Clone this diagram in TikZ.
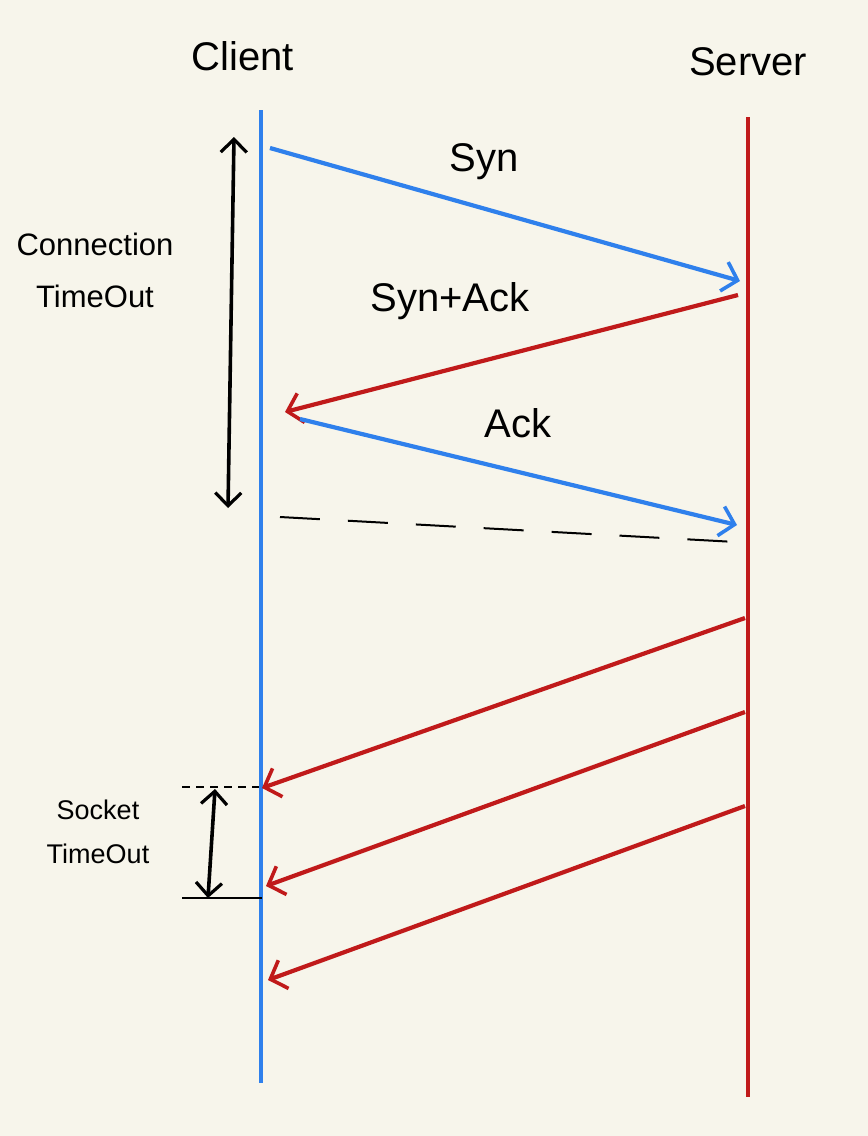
\documentclass[tikz,border=0pt]{standalone}
\usepackage{fontspec}
\setmainfont{Liberation Sans}
\usetikzlibrary{arrows.meta}
\definecolor{bg}{HTML}{F7F5EB}
\definecolor{cblue}{HTML}{2F80EC}
\definecolor{cred}{HTML}{C01A1A}
\tikzset{
  lifeline/.style={line width=3.4pt},
  msg/.style={line width=4.2pt, -{Straight Barb[length=14pt,width=30pt,line width=3.6pt]}},
  dim/.style={line width=3.6pt, {Straight Barb[length=13pt,width=26pt,line width=3.2pt]}-{Straight Barb[length=13pt,width=26pt,line width=3.2pt]}},
  lbl/.style={font=\fontsize{40}{40}\selectfont, inner sep=0pt},
  sidelbl/.style={font=\fontsize{31}{52}\selectfont, align=center, inner sep=0pt},
  guide/.style={line width=2pt, dash pattern=on 40pt off 28pt}
}
\begin{document}
\begin{tikzpicture}[x=1pt,y=-1pt]
\fill[bg] (0,0) rectangle (868,1136);
\useasboundingbox (0,0) rectangle (868,1136);

% headers
\node[lbl] (client) at (243,56) {Client};
\node[lbl] (server) at (748,62) {Server};

% lifelines
\coordinate (ctop) at (261,110);
\coordinate (cbot) at (261,1083);
\coordinate (stop) at (748,117);
\coordinate (sbot) at (748,1097);
\draw[lifeline, cblue] (ctop) -- (cbot);
\draw[lifeline, cred] (stop) -- (sbot);

% handshake
\coordinate (syn1) at (270,148);
\coordinate (syn2) at (740,281);
\coordinate (sa1) at (738,295);
\coordinate (sa2) at (285,412);
\coordinate (ack1) at (300,419);
\coordinate (ack2) at (737,525);
\draw[msg, cblue] (syn1) -- (syn2);
\draw[msg, cred] (sa1) -- (sa2);
\draw[msg, cblue] (ack1) -- (ack2);
\node[lbl] (synlbl) at (484,162) {Syn};
\node[lbl] (salbl) at (450,301) {Syn+Ack};
\node[lbl] (acklbl) at (518,423) {Ack};

% dashed established line
\coordinate (d1) at (280,517);
\coordinate (d2) at (736,542);
\draw[guide] (d1) -- (d2);

% connection timeout
\coordinate (ct1) at (234,137);
\coordinate (ct2) at (228,508);
\draw[dim] (ct1) -- (ct2);
\node[sidelbl] (ctlbl) at (95,270) {Connection\\TimeOut};

% data messages
\coordinate (m1a) at (745,618);
\coordinate (m1b) at (262,788);
\coordinate (m2a) at (745,712);
\coordinate (m2b) at (266,886);
\coordinate (m3a) at (745,806);
\coordinate (m3b) at (268,980);
\draw[msg, cred] (m1a) -- (m1b);
\draw[msg, cred] (m2a) -- (m2b);
\draw[msg, cred] (m3a) -- (m3b);

% socket timeout
\coordinate (st1) at (182,787);
\coordinate (st1e) at (259,787);
\coordinate (st2) at (182,898);
\coordinate (st2e) at (262,898);
\draw[line width=1.8pt, dash pattern=on 8pt off 6pt] (st1) -- (st1e);
\draw[line width=2pt] (st2) -- (st2e);
\coordinate (sa) at (215,789);
\coordinate (sb) at (208,898);
\draw[dim] (sa) -- (sb);
\node[sidelbl, font=\fontsize{27}{44}\selectfont] (stlbl) at (98,832) {Socket\\TimeOut};
\end{tikzpicture}
\end{document}
